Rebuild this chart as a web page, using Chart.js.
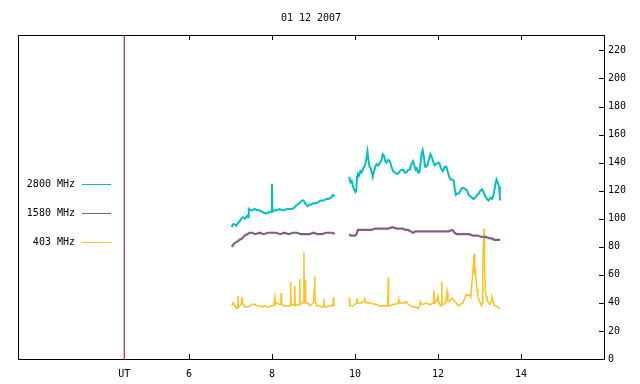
<!DOCTYPE html>
<html>
<head>
<meta charset="utf-8">
<script src="https://cdn.jsdelivr.net/npm/chart.js@4/dist/chart.umd.min.js"></script>
<style>
html,body{margin:0;padding:0;background:#fff;}
#wrap{width:640px;height:384px;}
</style>
</head>
<body>
<div id="wrap"><canvas id="c" width="640" height="384"></canvas></div>
<script>
const TITLE = '01 12 2007';
const UT_POS = 4.44;
const X_TICKS = [6, 8, 10, 12, 14];
const Y_TICKS = [0, 20, 40, 60, 80, 100, 120, 140, 160, 180, 200, 220];
const SERIES_LABELS = ['2800 MHz', '1580 MHz', '403 MHz'];

// 2800 MHz (null = data gap)
const t2800 = [7.03,7.06,7.10,7.14,7.18,7.22,7.26,7.30,7.35,7.40,7.43,7.44,7.48,7.52,7.58,7.64,7.70,7.76,7.82,7.86,7.90,7.95,7.99,8.00,8.01,8.06,8.12,8.18,8.24,8.30,8.36,8.42,8.48,8.54,8.60,8.66,8.72,8.76,8.80,8.86,8.92,9.00,9.06,9.12,9.18,9.24,9.30,9.36,9.42,9.47,9.51,
  9.70,
  9.86,9.89,9.92,9.95,9.98,10.01,10.03,10.05,10.07,10.10,10.13,10.16,10.19,10.22,10.25,10.28,10.30,10.32,10.35,10.38,10.41,10.43,10.46,10.49,10.52,10.56,10.60,10.64,10.67,10.70,10.73,10.76,10.80,10.84,10.88,10.92,10.96,11.00,11.04,11.08,11.12,11.16,11.20,11.24,11.28,11.32,11.36,11.40,11.43,11.46,11.49,11.52,11.55,11.58,11.61,11.63,11.66,11.69,11.72,11.75,11.78,11.82,11.85,11.88,11.92,11.96,12.00,12.03,12.06,12.09,12.12,12.16,12.20,12.24,12.27,12.30,12.34,12.38,12.40,12.43,12.46,12.50,12.54,12.58,12.62,12.66,12.70,12.74,12.78,12.82,12.86,12.90,12.94,12.98,13.02,13.06,13.10,13.14,13.18,13.22,13.26,13.30,13.34,13.38,13.41,13.44,13.47,13.49,13.50];
const v2800 = [94,96,96,95,97,98,100,101,100,102,101,107,106,106,107,106,106,105,104,104,104,105,105,125,105,106,106,107,106,106,107,107,107,108,110,111,113,113,111,109,110,111,111,112,113,113,114,114,115,117,116,
  null,
  130,126,127,123,121,119,120,130,132,131,134,133,135,137,139,144,148,143,137,136,132,131,134,137,139,138,140,142,146,145,141,140,142,141,137,134,133,132,132,134,135,135,133,133,135,135,139,141,138,135,136,133,133,140,147,149,144,137,137,139,142,146,144,141,138,139,140,140,137,135,134,137,137,133,130,128,128,127,122,117,118,118,120,122,122,121,120,117,116,115,114,115,117,118,120,121,119,116,114,113,115,114,117,124,128,126,123,116,113];

// 1580 MHz
const t1580 = [7.03,7.08,7.12,7.18,7.22,7.28,7.34,7.40,7.46,7.52,7.60,7.70,7.80,7.90,8.00,8.10,8.20,8.30,8.40,8.50,8.60,8.70,8.80,8.90,9.00,9.10,9.20,9.30,9.40,9.46,9.51,
  9.70,
  9.86,9.90,9.95,10.00,10.04,10.07,10.12,10.20,10.30,10.40,10.48,10.52,10.60,10.70,10.80,10.90,11.00,11.10,11.16,11.22,11.28,11.34,11.40,11.46,11.55,11.65,11.75,11.85,11.95,12.05,12.15,12.25,12.35,12.40,12.45,12.55,12.65,12.75,12.85,12.95,13.05,13.15,13.25,13.30,13.35,13.42,13.50];
const v1580 = [80,82,83,84,85,86,88,89,90,90,89,90,89,90,90,90,89,90,89,90,90,89,89,89,90,89,89,90,90,90,89,
  null,
  89,88,88,88,89,92,92,92,92,92,93,93,93,93,93,94,93,93,93,92,92,91,90,91,91,91,91,91,91,91,91,91,92,90,89,89,89,89,88,88,87,87,86,86,85,85,85];

// 403 MHz
const t403 = [7.03,7.06,7.09,7.12,7.15,7.17,7.18,7.19,7.22,7.26,7.28,7.29,7.32,7.36,7.42,7.48,7.52,7.58,7.64,7.70,7.76,7.82,7.88,7.94,7.98,8.04,8.07,8.08,8.12,8.16,8.21,8.22,8.23,8.28,8.34,8.40,8.44,8.45,8.46,8.50,8.54,8.55,8.56,8.60,8.66,8.67,8.68,8.72,8.76,8.77,8.78,8.79,8.80,8.81,8.86,8.92,8.96,9.00,9.02,9.03,9.04,9.08,9.14,9.20,9.24,9.25,9.26,9.32,9.38,9.44,9.47,9.48,9.49,9.51,
  9.70,
  9.86,9.87,9.88,9.92,9.96,10.00,10.04,10.05,10.06,10.10,10.15,10.20,10.22,10.23,10.24,10.28,10.34,10.40,10.46,10.52,10.58,10.64,10.70,10.76,10.79,10.80,10.81,10.86,10.92,10.98,11.04,11.06,11.08,11.14,11.20,11.24,11.28,11.34,11.40,11.46,11.52,11.56,11.57,11.60,11.66,11.72,11.78,11.84,11.88,11.90,11.92,11.96,12.00,12.02,12.06,12.08,12.09,12.10,12.14,12.18,12.22,12.24,12.28,12.32,12.36,12.40,12.44,12.48,12.54,12.60,12.64,12.68,12.72,12.76,12.79,12.81,12.83,12.85,12.86,12.87,12.88,12.89,12.90,12.92,12.94,12.96,12.99,13.02,13.05,13.07,13.08,13.10,13.11,13.12,13.14,13.16,13.18,13.22,13.25,13.28,13.30,13.32,13.36,13.40,13.44,13.48,13.50];
const v403 = [38,40,39,37,36,37,45,37,38,39,44,40,38,37,37,38,39,39,38,38,37,38,37,37,38,38,44,39,40,39,39,47,39,38,38,38,38,55,39,39,38,52,39,38,39,57,39,40,40,76,40,40,56,40,40,38,39,40,50,59,42,38,38,37,38,43,37,37,38,38,39,44,38,38,
  null,
  38,44,38,38,38,39,40,43,40,40,40,41,41,44,41,40,40,40,39,39,38,38,38,38,38,58,38,38,39,39,40,42,40,40,40,41,39,38,37,37,36,38,41,39,39,40,39,39,40,49,40,41,45,40,38,38,55,39,39,40,48,41,41,43,43,41,40,38,39,40,43,46,45,46,44,52,58,67,72,75,70,60,65,55,50,45,42,40,38,40,70,85,93,70,49,45,42,40,39,41,44,42,38,38,37,36,36];

const COLORS = ['#00c0c0', '#806080', '#ffc020'];
const UT_COLOR = '#a00000';
const FONT = {family: '"DejaVu Sans Mono", "Liberation Mono", monospace', size: 10};

function pts(t, v) { return t.map((x, i) => ({x: x, y: v[i]})); }

const framePlugin = {
  id: 'frame',
  afterDraw(chart) {
    const ctx = chart.ctx, a = chart.chartArea;
    const xs = chart.scales.x, ys = chart.scales.y;
    ctx.save();
    ctx.strokeStyle = '#000';
    ctx.lineWidth = 1;
    ctx.strokeRect(Math.round(a.left) + 0.5, Math.round(a.top) + 0.5, Math.round(a.right - a.left), Math.round(a.bottom - a.top));
    ctx.beginPath();
    X_TICKS.forEach(v => {
      const px = Math.round(xs.getPixelForValue(v)) + 0.5;
      ctx.moveTo(px, a.bottom); ctx.lineTo(px, a.bottom - 5);
      ctx.moveTo(px, a.top); ctx.lineTo(px, a.top + 5);
    });
    Y_TICKS.forEach(v => {
      const py = Math.round(ys.getPixelForValue(v)) + 0.5;
      ctx.moveTo(a.right, py); ctx.lineTo(a.right - 5, py);
    });
    ctx.stroke();
    // title
    ctx.fillStyle = '#000';
    ctx.font = FONT.size + 'px ' + FONT.family;
    ctx.textAlign = 'center';
    ctx.textBaseline = 'middle';
    ctx.fillText(TITLE, (a.left + a.right) / 2, 18);
    // legend
    ctx.textAlign = 'right';
    SERIES_LABELS.forEach((lab, i) => {
      const y = 184 + i * 29;
      ctx.fillStyle = '#000';
      ctx.fillText(lab, 75, y);
      ctx.strokeStyle = COLORS[i];
      ctx.beginPath();
      ctx.moveTo(82, y + 0.5); ctx.lineTo(111, y + 0.5);
      ctx.stroke();
    });
    ctx.restore();
  }
};

Chart.defaults.color = '#000';
Chart.defaults.font = FONT;

const noGrid = {display: true, drawOnChartArea: false, drawTicks: false, color: 'rgba(0,0,0,0)'};

new Chart(document.getElementById('c'), {
  type: 'line',
  data: {
    datasets: [
      {label: SERIES_LABELS[0], data: pts(t2800, v2800), borderColor: COLORS[0], borderWidth: 2, pointRadius: 0, spanGaps: false, tension: 0},
      {label: SERIES_LABELS[1], data: pts(t1580, v1580), borderColor: COLORS[1], borderWidth: 2.2, pointRadius: 0, spanGaps: false, tension: 0},
      {label: SERIES_LABELS[2], data: pts(t403, v403), borderColor: COLORS[2], borderWidth: 1.5, pointRadius: 0, spanGaps: false, tension: 0},
      {label: 'UT', data: [{x: UT_POS, y: 0}, {x: UT_POS, y: 231}], borderColor: UT_COLOR, borderWidth: 1, pointRadius: 0}
    ]
  },
  options: {
    responsive: false,
    animation: false,
    events: [],
    layout: {padding: {left: 18, right: 0, top: 35, bottom: 0}},
    plugins: {legend: {display: false}, title: {display: false}, tooltip: {enabled: false}},
    scales: {
      x: {
        type: 'linear', min: 1.88, max: 16.0, offset: false,
        grid: noGrid, border: {display: false},
        afterBuildTicks: s => { s.ticks = [{value: UT_POS}].concat(X_TICKS.map(v => ({value: v}))); },
        afterFit: s => { s.height = 25; },
        ticks: {autoSkip: false, maxRotation: 0, padding: 9, callback: v => (v === UT_POS ? 'UT' : v)}
      },
      y: {
        type: 'linear', position: 'right', min: 0, max: 231,
        grid: noGrid, border: {display: false},
        afterBuildTicks: s => { s.ticks = Y_TICKS.map(v => ({value: v})); },
        afterFit: s => { s.width = 36; },
        ticks: {padding: 4, autoSkip: false}
      }
    }
  },
  plugins: [framePlugin]
});
</script>
</body>
</html>
